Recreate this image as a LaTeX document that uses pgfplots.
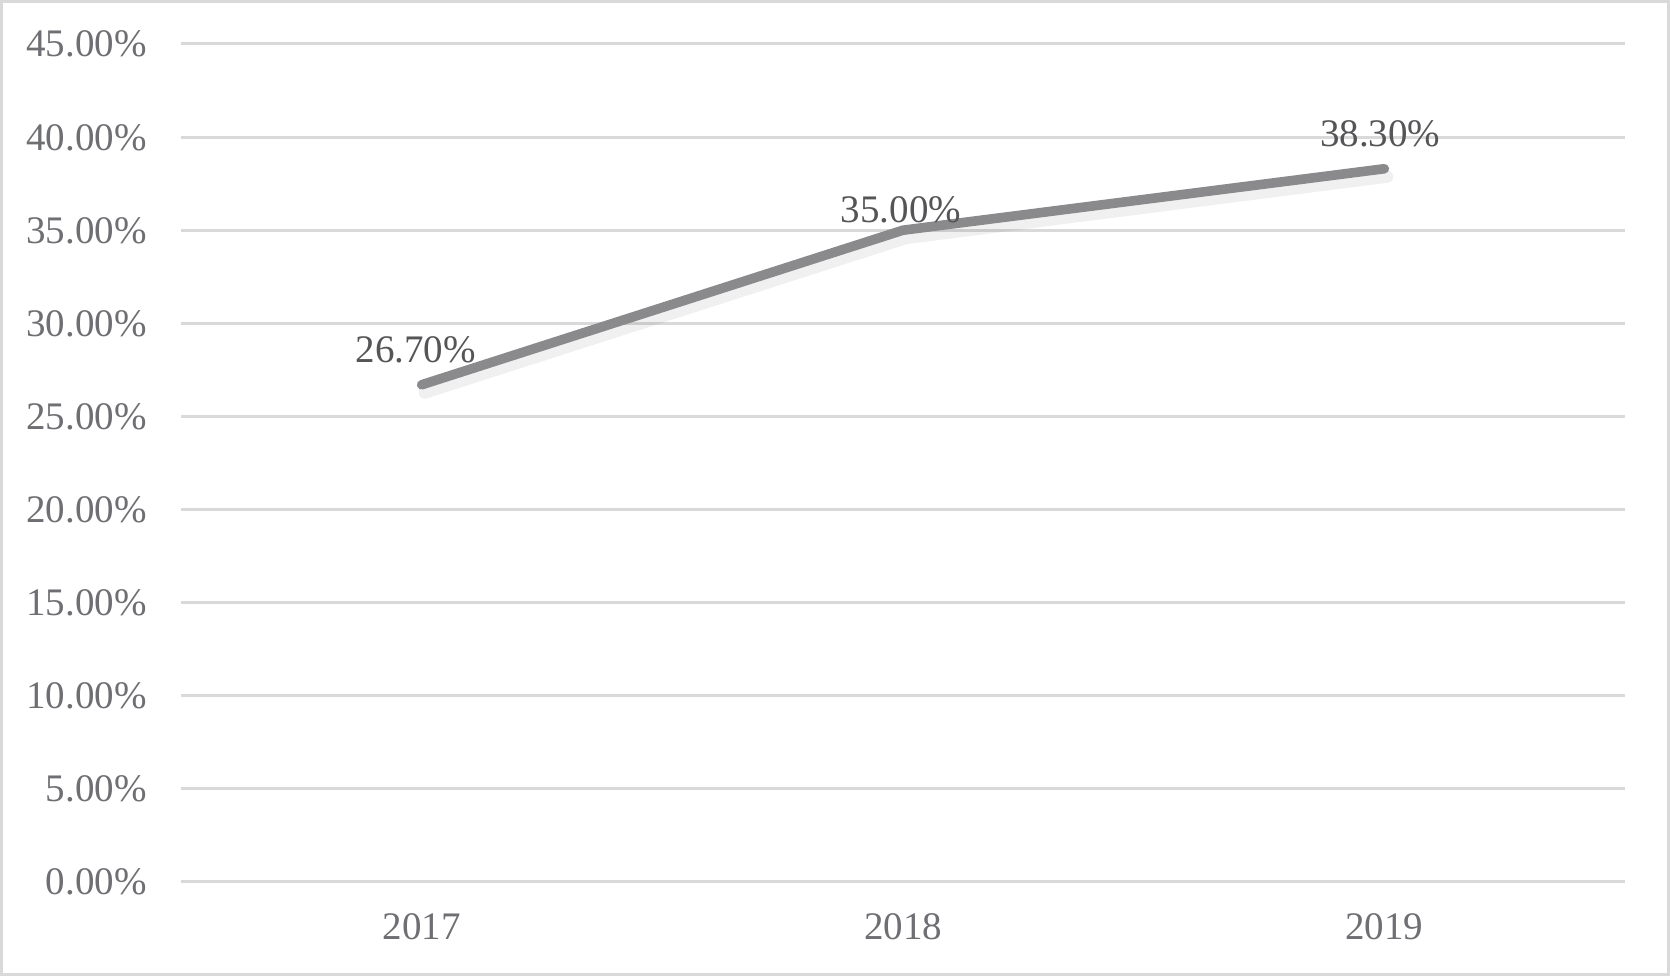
\documentclass[border=0pt]{standalone}
\usepackage{fontspec}
\setmainfont{Liberation Serif}
\usepackage{pgfplots}
\pgfplotsset{compat=1.18}

\definecolor{gridgray}{RGB}{217,217,217}
\definecolor{tickgray}{RGB}{110,110,115}
\definecolor{labgray}{RGB}{85,85,88}
\definecolor{linegray}{RGB}{138,138,141}

\begin{document}
\begin{tikzpicture}
\begin{axis}[name=ax,scale only axis,width=722pt,height=419pt,
  xmin=-0.5,xmax=2.5,ymin=0,ymax=45,
  xtick={0,1,2},xticklabels={2017,2018,2019},
  ytick={0,5,10,15,20,25,30,35,40,45},
  yticklabels={0.00\%,5.00\%,10.00\%,15.00\%,20.00\%,25.00\%,30.00\%,35.00\%,40.00\%,45.00\%},
  ymajorgrids,grid style={gridgray,line width=1.5pt},
  axis line style={draw=none},major tick length=0pt,tick style={draw=none},
  ticklabel style={font=\fontsize{19.5}{23}\selectfont,text=tickgray},
  yticklabel style={anchor=base east,xshift=-17pt,yshift=-6.5pt,inner sep=0pt},
  xticklabel style={anchor=base,yshift=-29pt,inner sep=0pt},
  clip=false]
% faint shadow of the series
\addplot[line width=6pt,black,opacity=0.06,line cap=round,line join=round,shift={(1.5pt,-4pt)}]
  coordinates{(0,26.7)(1,35.0)(2,38.3)};
\addplot[line width=4.8pt,linegray,line cap=round,line join=round]
  coordinates{(0,26.7)(1,35.0)(2,38.3)};
\node[anchor=base,text=labgray,font=\fontsize{19.5}{23}\selectfont,inner sep=0pt,xshift=-3pt,yshift=11pt] at (axis cs:0,26.7){26.70\%};
\node[anchor=base,text=labgray,font=\fontsize{19.5}{23}\selectfont,inner sep=0pt,xshift=-1pt,yshift=4pt] at (axis cs:1,35.0){35.00\%};
\node[anchor=base,text=labgray,font=\fontsize{19.5}{23}\selectfont,inner sep=0pt,xshift=-2pt,yshift=11pt] at (axis cs:2,38.3){38.30\%};
\end{axis}
\draw[gridgray,line width=1.5pt]
  ([xshift=-89.75pt,yshift=-46.25pt]ax.south west) rectangle ([xshift=21.75pt,yshift=21.25pt]ax.north east);
\end{tikzpicture}
\end{document}
